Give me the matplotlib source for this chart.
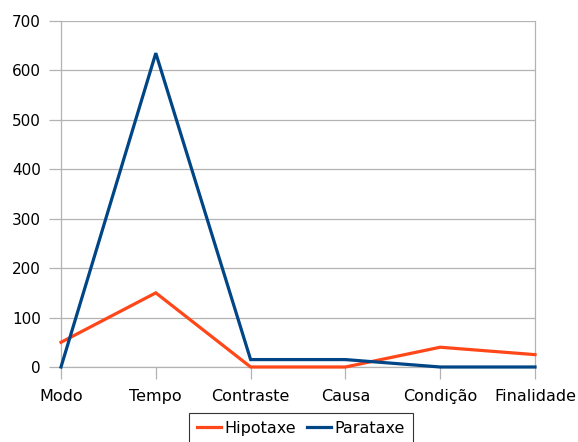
import numpy as np
import matplotlib
matplotlib.use("Agg")
import matplotlib.pyplot as plt

# Data
categories = ["Modo", "Tempo", "Contraste", "Causa", "Condição", "Finalidade"]
hipotaxe = [50, 150, 0, 0, 40, 25]
parataxe = [0, 635, 15, 15, 0, 0]

fig = plt.figure(figsize=(5.78, 4.42), dpi=100)
ax = fig.add_axes([61/578, 1-367/442, (535-61)/578, (367-21)/442])

x = np.arange(len(categories))
ax.plot(x, hipotaxe, color="#ff4719", lw=2.3, label="Hipotaxe", solid_joinstyle="miter",
        zorder=3, clip_on=False)
ax.plot(x, parataxe, color="#004586", lw=2.3, label="Parataxe", solid_joinstyle="miter",
        zorder=3, clip_on=False)

ax.set_xlim(0, len(categories) - 1)
ax.set_ylim(0, 700)
ax.set_yticks(range(0, 701, 100))
ax.set_xticks(x)
ax.set_xticklabels(categories)
ax.yaxis.grid(True, color="#b3b3b3", lw=0.9)
ax.set_axisbelow(True)

ax.spines["top"].set_visible(False)
for s in ["left", "right", "bottom"]:
    ax.spines[s].set_color("#b3b3b3")
    ax.spines[s].set_linewidth(0.9)

ax.tick_params(axis="both", colors="#b3b3b3", length=8.5, width=0.9, labelcolor="black")
ax.tick_params(axis="y", labelsize=11, pad=6)
ax.tick_params(axis="x", labelsize=11.5, pad=7)

leg = ax.legend(loc="upper center", ncol=2, fontsize=11.5, frameon=True, fancybox=False,
                edgecolor="black", handlelength=1.5, handletextpad=0.2, columnspacing=0.7,
                borderpad=0.5, borderaxespad=0)
leg.set_bbox_to_anchor((301 / 578, 1 - 413 / 442), transform=fig.transFigure)
leg.get_frame().set_linewidth(0.8)

fig.savefig("out.png", dpi=100)
